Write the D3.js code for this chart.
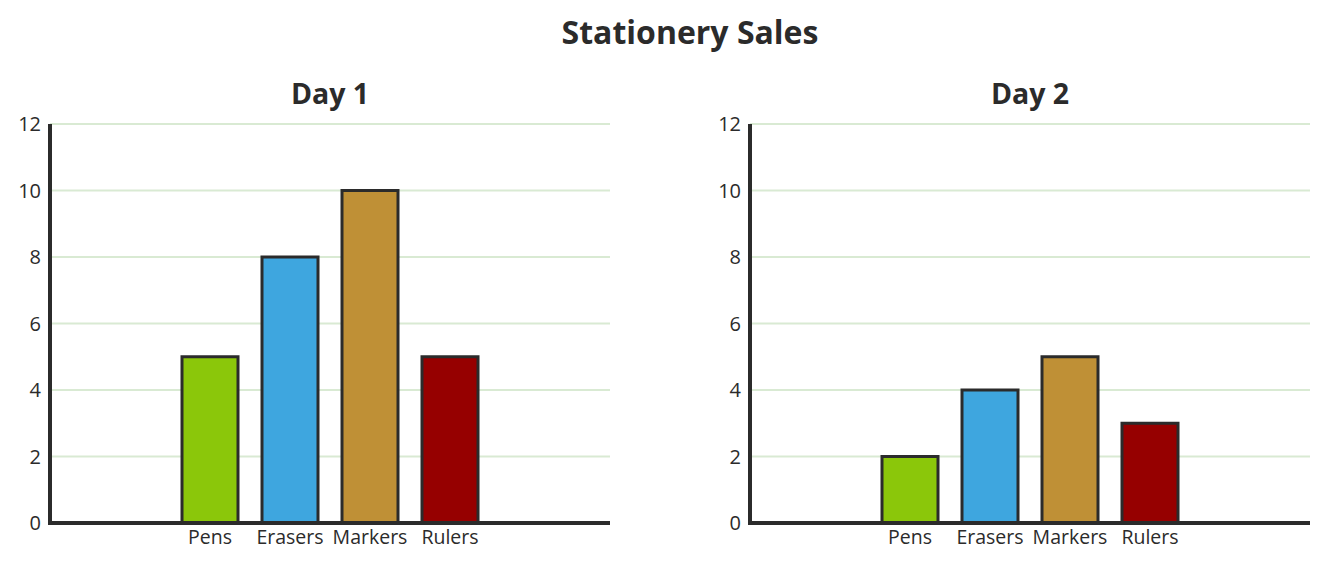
<!DOCTYPE html>
<html>
<head>
<meta charset="utf-8">
<script src="https://cdn.jsdelivr.net/npm/d3@7"></script>
<style>
    body { margin: 0; background: #fff; }
    svg { display: block; font-family: "Open Sans", "Noto Sans", sans-serif; }
    .tick-label { fill: #2b2b2b; font-size: 20px; }
    .cat-label { fill: #2b2b2b; font-size: 19.5px; }
</style>
</head>
<body>
<div id="chart"></div>
<script>
// chart data
const categories = ["Pens", "Erasers", "Markers", "Rulers"];
const day1Values = [5, 8, 10, 5];
const day2Values = [2, 4, 5, 3];
const panelTitles = ["Day 1", "Day 2"];
const yTicks = [0, 2, 4, 6, 8, 10, 12];
const barColors = ["#8bc70a", "#3ea6df", "#bf9036", "#960000"];

const width = 1328, height = 562;
const svg = d3.select("#chart").append("svg")
    .attr("width", width)
    .attr("height", height);

svg.append("text")
    .attr("x", 690)
    .attr("y", 44)
    .attr("text-anchor", "middle")
    .style("font-size", "32px")
    .style("font-weight", "bold")
    .style("fill", "#2b2b2b")
    .text("Stationery Sales");

const panelW = 560, plotTop = 124, plotBottom = 523;
const panels = [
    {title: panelTitles[0], values: day1Values, left: 50},
    {title: panelTitles[1], values: day2Values, left: 750}
];

panels.forEach(p => {
    let g = svg.append("g").attr("transform", `translate(${p.left},0)`);

    let y = d3.scaleLinear().domain([0, 12]).range([plotBottom, plotTop]);
    let x = d3.scaleBand().domain(categories).range([0, panelW])
        .paddingInner(0.3).paddingOuter(1.65);

    g.append("text")
        .attr("x", panelW / 2)
        .attr("y", 104)
        .attr("text-anchor", "middle")
        .style("font-size", "28.5px")
        .style("font-weight", "bold")
        .style("fill", "#2b2b2b")
        .text(p.title);

    // grid lines
    g.selectAll(".grid")
        .data(yTicks)
        .enter().append("line")
        .attr("class", "grid")
        .attr("x1", 0).attr("x2", panelW)
        .attr("y1", d => y(d)).attr("y2", d => y(d))
        .attr("stroke", "#d9ead3")
        .attr("stroke-width", 2);

    g.selectAll(".tick-label")
        .data(yTicks)
        .enter().append("text")
        .attr("class", "tick-label")
        .attr("x", -9)
        .attr("y", d => y(d))
        .attr("dy", "0.35em")
        .attr("text-anchor", "end")
        .text(d => d);

    g.selectAll(".bar")
        .data(p.values)
        .enter().append("rect")
        .attr("class", "bar")
        .attr("x", (d, i) => x(categories[i]))
        .attr("y", d => y(d))
        .attr("width", x.bandwidth())
        .attr("height", d => y(0) - y(d))
        .attr("fill", (d, i) => barColors[i])
        .attr("stroke", "#2b2b2b")
        .attr("stroke-width", 3);

    g.selectAll(".cat-label")
        .data(categories)
        .enter().append("text")
        .attr("class", "cat-label")
        .attr("x", d => x(d) + x.bandwidth() / 2)
        .attr("y", plotBottom + 21)
        .attr("text-anchor", "middle")
        .text(d => d);

    // axis lines
    g.append("line")
        .attr("x1", 0).attr("x2", 0)
        .attr("y1", plotTop).attr("y2", plotBottom + 1.5)
        .attr("stroke", "#2b2b2b").attr("stroke-width", 4);
    g.append("line")
        .attr("x1", -2).attr("x2", panelW)
        .attr("y1", plotBottom).attr("y2", plotBottom)
        .attr("stroke", "#2b2b2b").attr("stroke-width", 4);
});
</script>
</body>
</html>
